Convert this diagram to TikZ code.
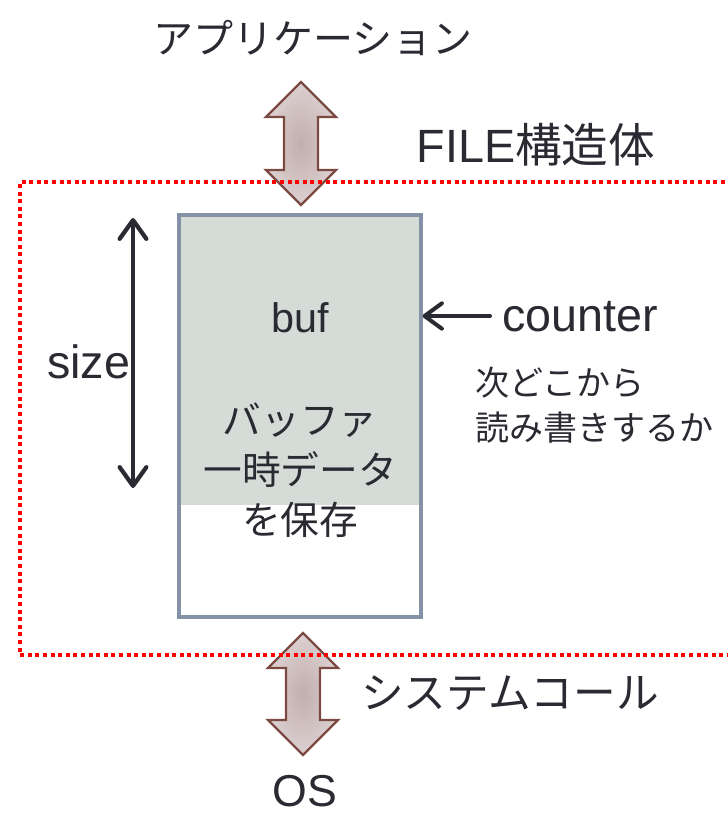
\documentclass[tikz,border=0pt]{standalone}
\usepackage{fontspec}
\setmainfont{Liberation Sans}
\newfontfamily\jp{Noto Sans CJK JP}
\usetikzlibrary{arrows.meta}
\definecolor{txt}{HTML}{2A2A33}
\definecolor{bufgray}{HTML}{D5DBD7}
\definecolor{boxline}{HTML}{8592A6}
\definecolor{arrline}{HTML}{7B4A42}
\definecolor{arrin}{HTML}{C2AEAE}
\definecolor{arrout}{HTML}{DCD0D0}
\tikzset{
  lbl/.style={text=txt, inner sep=0pt},
  fatarrow/.style={draw=arrline, line width=1.8pt, line join=miter, inner color=arrin, outer color=arrout},
  darrow/.style={draw=txt, line width=3.2pt, line cap=round,
    arrows={Straight Barb[length=14pt, width=20pt, line cap=round, line join=round]-Straight Barb[length=14pt, width=20pt, line cap=round, line join=round]}},
  larrow/.style={draw=txt, line width=3pt, line cap=round,
    arrows={-Straight Barb[length=13pt, width=19pt, line cap=round, line join=round]}},
  dotframe/.style={draw=red, line width=3pt, dash pattern=on 3pt off 2.7pt}
}
\begin{document}
\begin{tikzpicture}[x=0.75pt,y=-0.75pt]
\clip (0,0) rectangle (728,815);
\fill[white] (0,0) rectangle (728,815);

% big double arrows
\shadedraw[fatarrow] (301,82) -- (336,117) -- (318,117) -- (318,170) -- (336,170) -- (301,205) -- (266,170) -- (284,170) -- (284,117) -- (266,117) -- cycle;
\shadedraw[fatarrow] (303,633) -- (338,668) -- (320,668) -- (320,720) -- (338,720) -- (303,755) -- (268,720) -- (286,720) -- (286,668) -- (268,668) -- cycle;

% buffer box
\fill[bufgray] (179,215) rectangle (421,505);
\node[name=box, draw=boxline, line width=2.3pt, minimum width=181.5pt, minimum height=301.5pt, inner sep=0pt] at (300,416) {};

% dotted FILE frame
\draw[dotframe] (740,182) -- (20,182) -- (20,655) -- (740,655);

% texts
\node[lbl, name=app, font={\jp\fontsize{30}{36}\selectfont}] at (313,38) {アプリケーション};
\node[lbl, name=file, font={\fontsize{35}{40}\selectfont}] at (536,145) {FILE{\jp 構造体}};
\node[lbl, name=buf, font={\fontsize{31}{36}\selectfont}] at (300,318) {buf};
\node[lbl, name=bufjp, align=center, font={\jp\fontsize{29}{37.5}\selectfont}] at (300,470) {バッファ\\一時データ\\を保存};
\node[lbl, name=size, anchor=west, font={\fontsize{35}{40}\selectfont}] at (47,362) {size};
\node[lbl, name=counter, anchor=west, font={\fontsize{35}{40}\selectfont}] at (502,317) {counter};
\node[lbl, name=next, anchor=west, align=left, font={\jp\fontsize{25.5}{34}\selectfont}] at (475,405) {次どこから\\読み書きするか};
\node[lbl, name=syscall, font={\jp\fontsize{32}{38}\selectfont}] at (510,693) {システムコール};
\node[lbl, name=os, font={\fontsize{33.5}{38}\selectfont}] at (305,791) {OS};

% connectors
\coordinate (stop) at (133,218);
\coordinate (sbot) at (133,488);
\draw[darrow] (stop) -- (sbot);
\coordinate (ctail) at (490,316);
\draw[larrow] (ctail) -- (box.east |- ctail);
\end{tikzpicture}
\end{document}
